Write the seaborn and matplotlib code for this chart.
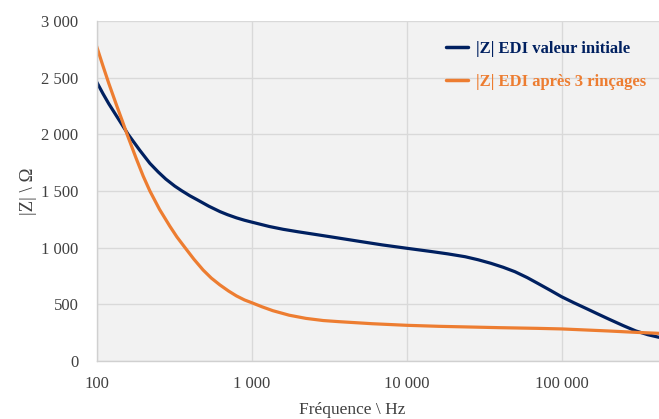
import matplotlib
matplotlib.use("Agg")
import matplotlib.pyplot as plt
import numpy as np
import pandas as pd
import seaborn as sns
from matplotlib.ticker import FuncFormatter, FixedLocator, NullLocator

# ---- data ----
freq_initial = [100, 110, 120, 142, 160, 190, 221, 250, 280, 320, 354, 400, 450, 530, 626,
                700, 800, 900, 1000, 1300, 1600, 2000, 2600, 3300, 5000, 7000, 10000,
                14600, 18500, 23900, 29000, 35000, 42000, 50000, 60000, 70000, 85000,
                100000, 120000, 148000, 170000, 200000, 250000, 300000, 360000, 425000]
z_initial = [2465, 2360, 2270, 2112, 2000, 1860, 1744, 1668, 1605, 1543, 1503, 1458, 1420,
             1366, 1318, 1291, 1263, 1242, 1226, 1187, 1162, 1140, 1116, 1094, 1055, 1024,
             995, 965, 945, 920, 893, 862, 827, 788, 736, 686, 622,
             567, 514, 456, 417, 372, 312, 266, 232, 209]

freq_rinse = [100, 110, 120, 135, 147, 158, 180, 200, 221, 255, 297, 330, 371, 425, 487,
              550, 624, 710, 800, 900, 1000, 1170, 1372, 1750, 2245, 2900, 3670, 4700,
              6000, 10000, 16200, 40000, 70000, 100000, 200000, 300000, 425000]
z_rinse = [2780, 2605, 2450, 2253, 2115, 1995, 1790, 1632, 1500, 1338, 1190, 1095, 1003,
           898, 803, 732, 672, 618, 574, 539, 515, 478, 444, 404, 376, 357, 347, 338,
           329, 315, 306, 294, 288, 283, 265, 253, 244]

series_labels = ["|Z| EDI valeur initiale", "|Z| EDI après 3 rinçages"]
series_colors = ["#002060", "#ED7D31"]
x_ticks = [100, 1000, 10000, 100000]
y_ticks = [0, 500, 1000, 1500, 2000, 2500, 3000]
x_label = "Fréquence \\ Hz"
y_label = "|Z| \\ Ω"

df = pd.concat([
    pd.DataFrame({"f": freq_initial, "z": z_initial, "serie": series_labels[0]}),
    pd.DataFrame({"f": freq_rinse, "z": z_rinse, "serie": series_labels[1]}),
], ignore_index=True)

sns.set_theme(style="white")
plt.rcParams["font.family"] = ["Liberation Serif", "DejaVu Serif"]

W, H = 659, 419
fig = plt.figure(figsize=(W / 100, H / 100), dpi=100)
left, right, top, bottom = 96.5, 659, 21, 361
ax = fig.add_axes([left / W, 1 - bottom / H, (right - left) / W, (bottom - top) / H])
ax.set_facecolor("#F2F2F2")

sns.lineplot(data=df, x="f", y="z", hue="serie", palette=series_colors,
             hue_order=series_labels, estimator=None, sort=False,
             linewidth=2.3, ax=ax, legend=True)
for ln in ax.get_lines():
    ln.set_solid_joinstyle("round")
    ln.set_solid_capstyle("round")

ax.set_xscale("log")
ax.set_xlim(100, 425000)
ax.set_ylim(0, 3000)
ax.xaxis.set_major_locator(FixedLocator(x_ticks))
ax.xaxis.set_minor_locator(NullLocator())
ax.yaxis.set_major_locator(FixedLocator(y_ticks))

fmt = FuncFormatter(lambda v, p: f"{int(round(v)):,}".replace(",", " "))
ax.xaxis.set_major_formatter(fmt)
ax.yaxis.set_major_formatter(fmt)

ax.grid(True, which="major", color="#D9D9D9", linewidth=1.0)
ax.set_axisbelow(True)
for s in ["top", "right"]:
    ax.spines[s].set_visible(False)
for s in ["left", "bottom"]:
    ax.spines[s].set_color("#D0D0D0")
    ax.spines[s].set_linewidth(1.0)

ax.tick_params(axis="both", length=0, labelsize=12, labelcolor="#404040")
ax.tick_params(axis="x", pad=11)
ax.tick_params(axis="y", pad=13)

ax.set_xlabel(x_label, fontsize=12.5, color="#404040")
ax.set_ylabel(y_label, fontsize=13.5, color="#404040")
ax.xaxis.set_label_coords(0.454, -0.121)
ax.yaxis.set_label_coords(-0.106, 0.5)

handles, labels = ax.get_legend_handles_labels()
leg = ax.legend(handles, labels, loc="upper left",
                bbox_to_anchor=(446 / W, 1 - 41 / H), bbox_transform=fig.transFigure,
                frameon=False, prop={"weight": "bold", "size": 12},
                handlelength=1.3, handletextpad=0.5, labelspacing=0.99,
                borderpad=0, borderaxespad=0)
for txt, col in zip(leg.get_texts(), series_colors):
    txt.set_color(col)
for ln in leg.get_lines():
    ln.set_linewidth(2.5)

fig.savefig("out.png", dpi=100)
